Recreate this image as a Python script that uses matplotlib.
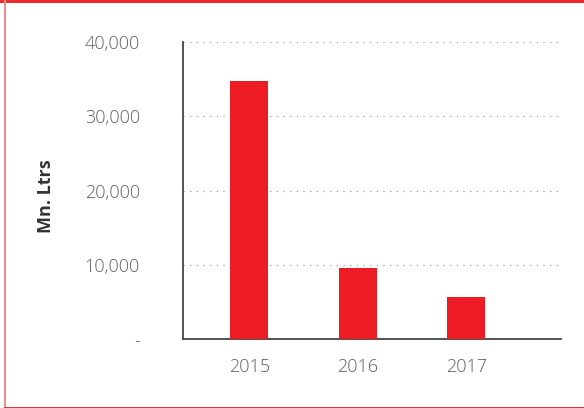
import matplotlib
matplotlib.use("Agg")
import matplotlib.pyplot as plt
from matplotlib.patches import Rectangle
from matplotlib.ticker import FuncFormatter

years = ["2015", "2016", "2017"]
values = [34700, 9600, 5600]
y_ticks = [0, 10000, 20000, 30000, 40000]
y_label = "Mn. Ltrs"

plt.rcParams['font.family'] = ['Open Sans', 'DejaVu Sans']

fig = plt.figure(figsize=(5.84, 4.08), dpi=100)
ax = fig.add_axes([183/584, 1-339/408, (560.7-183)/584, (339-42)/408])

x = list(range(len(years)))
ax.bar(x, values, width=0.35, color="#ED1C24", zorder=3)

ax.set_xlim(-0.61, 2.87)
ax.set_ylim(0, 40000)
ax.set_yticks(y_ticks)
ax.yaxis.set_major_formatter(FuncFormatter(lambda v, p: "-" if v == 0 else f"{int(v):,}"))
ax.set_xticks(x)
ax.set_xticklabels(years)

ax.grid(axis="y", color="#8c8c8c", linestyle=(0, (1, 5)), linewidth=0.8, zorder=0)
ax.set_axisbelow(True)

for s in ["top", "right"]:
    ax.spines[s].set_visible(False)
for s in ["left", "bottom"]:
    ax.spines[s].set_color("#444444")
    ax.spines[s].set_linewidth(1.3)

ax.tick_params(axis="both", length=0, labelsize=13, labelcolor="#5f5f5f")
ax.tick_params(axis="y", pad=31)
ax.tick_params(axis="x", pad=14)
for lbl in ax.get_xticklabels() + ax.get_yticklabels():
    lbl.set_fontweight("light")

fig.text(46/584, 1-196/408, y_label, rotation=90, ha="center", va="center",
         fontsize=13, fontweight="bold", color="#333333")

# Decorative border
fig.add_artist(Rectangle((0, 1-3/408), 1, 3/408, transform=fig.transFigure,
                         color="#EE2A2F", lw=0))
fig.add_artist(Rectangle((4/584, 0), 1.6/584, 1, transform=fig.transFigure,
                         color="#F28C8F", lw=0))
fig.add_artist(Rectangle((4/584, 0), 1, 1.4/408, transform=fig.transFigure,
                         color="#D9363E", lw=0))

fig.savefig("out.png", dpi=100)
